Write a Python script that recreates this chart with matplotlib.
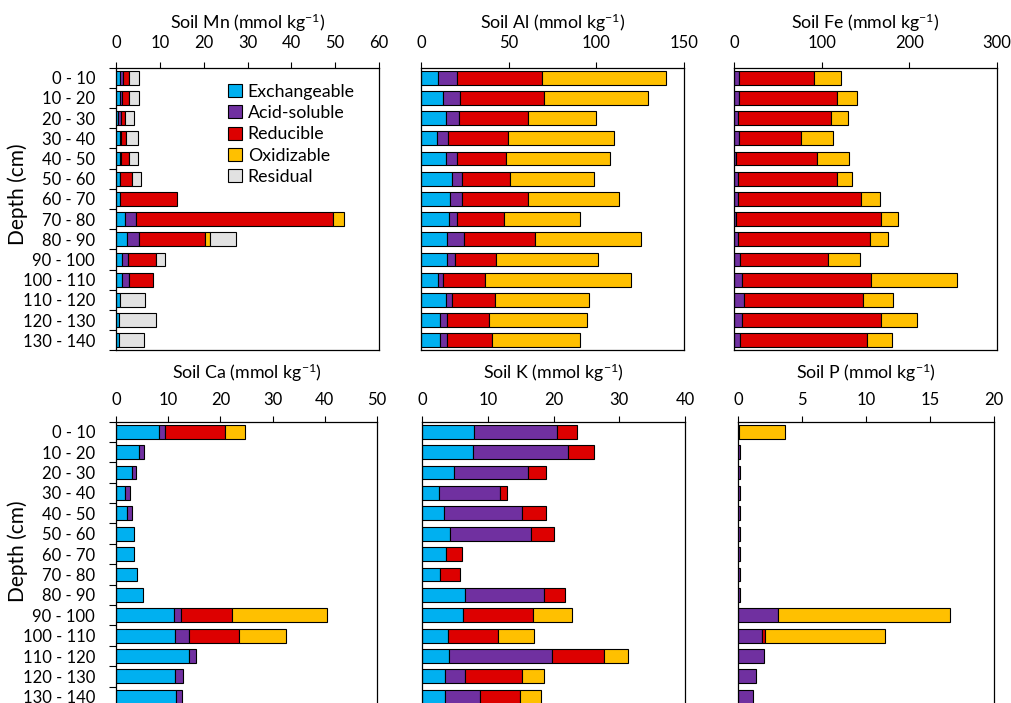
import numpy as np
import matplotlib.pyplot as plt
from matplotlib.patches import Patch

plt.rcParams['font.family'] = ['Lato', 'DejaVu Sans']
plt.rcParams['mathtext.default'] = 'regular'

depths = ['0 - 10', '10 - 20', '20 - 30', '30 - 40', '40 - 50', '50 - 60', '60 - 70',
          '70 - 80', '80 - 90', '90 - 100', '100 - 110', '110 - 120', '120 - 130', '130 - 140']
fractions = ['Exchangeable', 'Acid-soluble', 'Reducible', 'Oxidizable', 'Residual']
colors = ['#00B0F0', '#7030A0', '#DD0000', '#FFC000', '#E2E2E2']

# fraction values per depth (mmol/kg)
mn_exch = [1.0, 1.0, 0.5, 0.8, 0.8, 0.8, 0.8, 2.1, 2.5, 1.4, 1.4, 1.0, 0.75, 0.75]
mn_acid = [0.5, 0.3, 0.6, 0.3, 0.3, 0.1, 0.0, 2.4, 2.7, 1.4, 1.6, 0.0, 0.0, 0.0]
mn_red = [1.5, 1.6, 1.0, 1.1, 1.8, 2.7, 13.2, 45.1, 15.2, 6.4, 5.5, 0.0, 0.0, 0.0]
mn_oxi = [0.0, 0.0, 0.0, 0.0, 0.0, 0.0, 0.0, 2.5, 1.0, 0.0, 0.0, 0.0, 0.0, 0.0]
mn_res = [2.3, 2.4, 2.1, 2.9, 2.2, 2.0, 0.0, 0.0, 5.9, 2.0, 0.0, 5.6, 8.35, 5.55]

al_exch = [9.9, 12.7, 14.1, 9.1, 14.1, 17.7, 16.5, 16.2, 15.0, 14.6, 9.9, 14.1, 10.8, 10.8]
al_acid = [10.4, 9.7, 7.8, 6.5, 6.2, 5.5, 6.7, 4.1, 9.5, 5.0, 2.8, 3.6, 4.2, 3.8]
al_red = [48.5, 47.8, 39.3, 34.2, 28.2, 27.4, 38.0, 26.8, 40.3, 23.4, 24.0, 24.5, 23.6, 26.1]
al_oxi = [70.7, 59.5, 38.4, 60.3, 59.5, 48.3, 51.5, 43.4, 60.9, 58.1, 83.1, 53.8, 56.1, 49.8]
al_res = [0.0] * 14

fe_exch = [0.0] * 14
fe_acid = [5.7, 5.7, 4.2, 5.7, 2.7, 4.2, 4.2, 2.7, 4.2, 6.9, 8.8, 11.4, 8.8, 6.9]
fe_red = [85.8, 111.3, 106.0, 70.5, 91.8, 112.8, 141.1, 164.7, 151.0, 100.6, 147.5, 135.4, 158.6, 145.2]
fe_oxi = [30.9, 23.7, 19.4, 36.3, 36.6, 18.0, 21.7, 19.8, 20.6, 36.2, 98.0, 35.1, 40.8, 28.2]
fe_res = [0.0] * 14

ca_exch = [8.3, 4.4, 3.0, 1.7, 2.2, 3.5, 3.5, 4.0, 5.2, 11.1, 11.3, 13.9, 11.3, 11.5]
ca_acid = [1.0, 1.0, 0.8, 0.9, 0.9, 0.0, 0.0, 0.0, 0.0, 1.3, 2.7, 1.4, 1.6, 1.2]
ca_red = [11.5, 0.0, 0.0, 0.0, 0.0, 0.0, 0.0, 0.0, 0.0, 9.8, 9.6, 0.0, 0.0, 0.0]
ca_oxi = [4.0, 0.0, 0.0, 0.0, 0.0, 0.0, 0.0, 0.0, 0.0, 18.2, 8.9, 0.0, 0.0, 0.0]
ca_res = [0.0] * 14

k_exch = [7.9, 7.7, 4.9, 2.6, 3.4, 4.3, 3.6, 2.8, 6.5, 6.3, 4.0, 4.1, 3.5, 3.5]
k_acid = [12.7, 14.5, 11.2, 9.2, 11.8, 12.3, 0.0, 0.0, 12.0, 0.0, 0.0, 15.7, 3.1, 5.3]
k_red = [3.0, 4.0, 2.8, 1.1, 3.7, 3.5, 2.5, 3.0, 3.2, 10.6, 7.6, 7.9, 8.6, 6.1]
k_oxi = [0.0, 0.0, 0.0, 0.0, 0.0, 0.0, 0.0, 0.0, 0.0, 5.9, 5.4, 3.6, 3.3, 3.2]
k_res = [0.0] * 14

p_exch = [0.0] * 14
p_acid = [0.05, 0.12, 0.12, 0.12, 0.12, 0.12, 0.12, 0.12, 0.12, 3.1, 1.85, 2.0, 1.4, 1.2]
p_red = [0.0, 0.0, 0.0, 0.0, 0.0, 0.0, 0.0, 0.0, 0.0, 0.0, 0.25, 0.0, 0.0, 0.0]
p_oxi = [3.65, 0.0, 0.0, 0.0, 0.0, 0.0, 0.0, 0.0, 0.0, 13.5, 9.4, 0.0, 0.0, 0.0]
p_res = [0.0] * 14

panels = [
    ('Mn', [mn_exch, mn_acid, mn_red, mn_oxi, mn_res], 60, 10),
    ('Al', [al_exch, al_acid, al_red, al_oxi, al_res], 150, 50),
    ('Fe', [fe_exch, fe_acid, fe_red, fe_oxi, fe_res], 300, 100),
    ('Ca', [ca_exch, ca_acid, ca_red, ca_oxi, ca_res], 50, 10),
    ('K', [k_exch, k_acid, k_red, k_oxi, k_res], 40, 10),
    ('P', [p_exch, p_acid, p_red, p_oxi, p_res], 20, 5),
]

W, H = 1011, 703
fig = plt.figure(figsize=(W / 100, H / 100), dpi=100)

# axes boxes in pixels: left, right, top, bottom
boxes = [(116, 379, 67.6, 350.4), (421, 684, 67.6, 350.4), (734, 997, 67.6, 350.4),
         (116, 377, 421.5, 707), (422, 685, 421.5, 707), (738, 994, 421.5, 707)]
title_y = [23, 373]
ylabel_y = [194, 551]

y = np.arange(len(depths))
for i, ((name, series, xmax, step), (l, r, t, b)) in enumerate(zip(panels, boxes)):
    ax = fig.add_axes([l / W, 1 - b / H, (r - l) / W, (b - t) / H])
    left = np.zeros(len(depths))
    for vals, c in zip(series, colors):
        vals = np.array(vals)
        mask = vals > 0
        ax.barh(y[mask], vals[mask], left=left[mask], height=0.68, color=c,
                edgecolor='black', linewidth=0.8)
        left += vals
    ax.set_xlim(0, xmax)
    ax.set_ylim(len(depths) - 0.5, -0.5)
    ax.xaxis.tick_top()
    ax.set_xticks(np.arange(0, xmax + step / 2, step))
    row = i // 3
    ax.tick_params(axis='x', direction='out', length=4, width=0.8, labelsize=12,
                   pad=8 if row == 0 else 6)
    fig.text((l + r) / 2 / W, 1 - title_y[row] / H, f'Soil {name} (mmol kg$^{{-1}}$)',
             fontsize=12.8, ha='center', va='center')
    for s in ax.spines.values():
        s.set_linewidth(0.9)
    if i % 3 == 0:
        ax.set_yticks(y)
        ax.set_yticklabels(depths, fontsize=12)
        ax.set_yticks(np.arange(-0.5, len(depths), 1), minor=True)
        ax.tick_params(axis='y', which='major', length=0, pad=15)
        ax.tick_params(axis='y', which='minor', length=5, width=0.8, direction='out')
        fig.text(18 / W, 1 - ylabel_y[row] / H, 'Depth (cm)', fontsize=15,
                 rotation=90, ha='center', va='center')
    else:
        ax.set_yticks([])
    if i == 0:
        handles = [Patch(facecolor=c, edgecolor='black', linewidth=0.8) for c in colors]
        ax.legend(handles, fractions, loc='upper left', bbox_to_anchor=(0.40, 0.968),
                  frameon=False, fontsize=12.8, handlelength=0.75, handleheight=0.75,
                  handletextpad=0.35, labelspacing=0.3, borderaxespad=0.0)

fig.savefig('out.png', dpi=100)
